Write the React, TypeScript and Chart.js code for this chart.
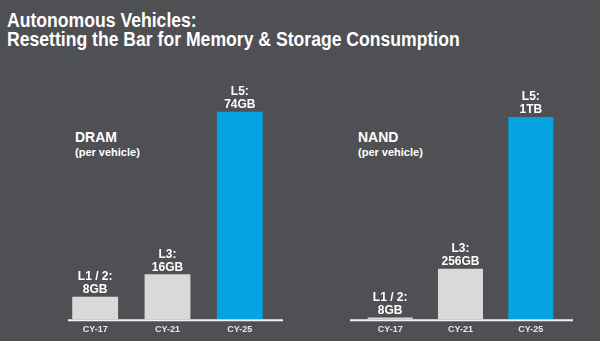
import React, { useEffect, useRef } from "react";
import { Chart, registerables } from "chart.js";

Chart.register(...registerables);

const categories = ["CY-17", "CY-21", "CY-25"];
const levels = ["L1 / 2:", "L3:", "L5:"];
const dramValuesGB = [8, 16, 74];
const dramLabels = ["8GB", "16GB", "74GB"];
const nandValuesGB = [8, 256, 1024];
const nandLabels = ["8GB", "256GB", "1TB"];

const BG = "#4f5054";
const GRAY = "#d9d9d9";
const BLUE = "#05a3e0";
const FONT = "'Liberation Sans', Arial, sans-serif";

const barLabelPlugin = {
  id: "barLabels",
  afterDatasetsDraw(chart: any, _args: any, opts: any) {
    const ctx = chart.ctx;
    const meta = chart.getDatasetMeta(0);
    ctx.save();
    ctx.fillStyle = "#ffffff";
    ctx.font = `bold 12px ${FONT}`;
    ctx.textAlign = "center";
    ctx.textBaseline = "middle";
    meta.data.forEach((bar: any, i: number) => {
      ctx.fillText(opts.amounts[i], bar.x, bar.y - 7);
      ctx.fillText(opts.levels[i], bar.x, bar.y - 20);
    });
    ctx.restore();
  },
};

const baselinePlugin = {
  id: "baseline",
  afterDatasetsDraw(chart: any, _args: any, opts: any) {
    const { ctx, chartArea } = chart;
    ctx.save();
    ctx.strokeStyle = "#f2f2f2";
    ctx.lineWidth = 2;
    ctx.beginPath();
    ctx.moveTo(chartArea.left + opts.extendLeft, chartArea.bottom + 1);
    ctx.lineTo(chartArea.right + opts.extendRight, chartArea.bottom + 1);
    ctx.stroke();
    ctx.restore();
  },
};

function BarPanel(props: {
  values: number[];
  amounts: string[];
  max: number;
  padding: { left: number; right: number; top: number; bottom: number };
  extendLeft: number;
  extendRight: number;
  barPct: number;
}) {
  const ref = useRef<HTMLCanvasElement>(null);
  useEffect(() => {
    const chart = new Chart(ref.current!, {
      type: "bar",
      data: {
        labels: categories,
        datasets: [
          {
            data: props.values,
            backgroundColor: [GRAY, GRAY, BLUE],
            borderWidth: 0,
            barPercentage: props.barPct,
            categoryPercentage: 1,
          },
        ],
      },
      options: {
        responsive: false,
        animation: false,
        layout: { padding: props.padding },
        plugins: {
          legend: { display: false },
          tooltip: { enabled: false },
          barLabels: { amounts: props.amounts, levels },
          baseline: { extendLeft: props.extendLeft, extendRight: props.extendRight },
        } as any,
        scales: {
          x: {
            grid: { display: false, drawTicks: false },
            border: { display: false },
            ticks: {
              color: "#e8e8e8",
              font: { family: FONT, size: 9, weight: "bold" },
              padding: 5,
            },
          },
          y: {
            display: false,
            min: 0,
            max: props.max,
          },
        },
      },
      plugins: [barLabelPlugin, baselinePlugin],
    });
    return () => chart.destroy();
  }, []);
  return (
    <canvas
      ref={ref}
      width={600}
      height={341}
      style={{ position: "absolute", left: 0, top: 0, width: 600, height: 341 }}
    />
  );
}

const textStyle: React.CSSProperties = {
  position: "absolute",
  color: "#ffffff",
  fontFamily: FONT,
  fontWeight: "bold",
  whiteSpace: "nowrap",
  margin: 0,
};

export default function App() {
  return (
    <div
      style={{
        position: "fixed",
        left: 0,
        top: 0,
        width: 600,
        height: 341,
        background: BG,
        overflow: "hidden",
      }}
    >
      <div
        style={{
          ...textStyle,
          left: 7,
          top: 11,
          fontSize: 20,
          lineHeight: "19px",
          transform: "scaleX(0.88)",
          transformOrigin: "left top",
        }}
      >
        Autonomous Vehicles:
        <br />
        Resetting the Bar for Memory &amp; Storage Consumption
      </div>
      <div style={{ ...textStyle, left: 75, top: 129, fontSize: 14 }}>DRAM</div>
      <div style={{ ...textStyle, left: 75, top: 146, fontSize: 11 }}>(per vehicle)</div>
      <div style={{ ...textStyle, left: 358, top: 129, fontSize: 14 }}>NAND</div>
      <div style={{ ...textStyle, left: 358, top: 146, fontSize: 11 }}>(per vehicle)</div>
      <BarPanel
        values={dramValuesGB}
        amounts={dramLabels}
        max={80}
        padding={{ left: 59, right: 324, top: 95, bottom: 1 }}
        extendLeft={9}
        extendRight={7}
        barPct={0.634}
      />
      <BarPanel
        values={nandValuesGB}
        amounts={nandLabels}
        max={1100}
        padding={{ left: 355, right: 34, top: 102, bottom: 1 }}
        extendLeft={-5}
        extendRight={7}
        barPct={0.64}
      />
    </div>
  );
}
